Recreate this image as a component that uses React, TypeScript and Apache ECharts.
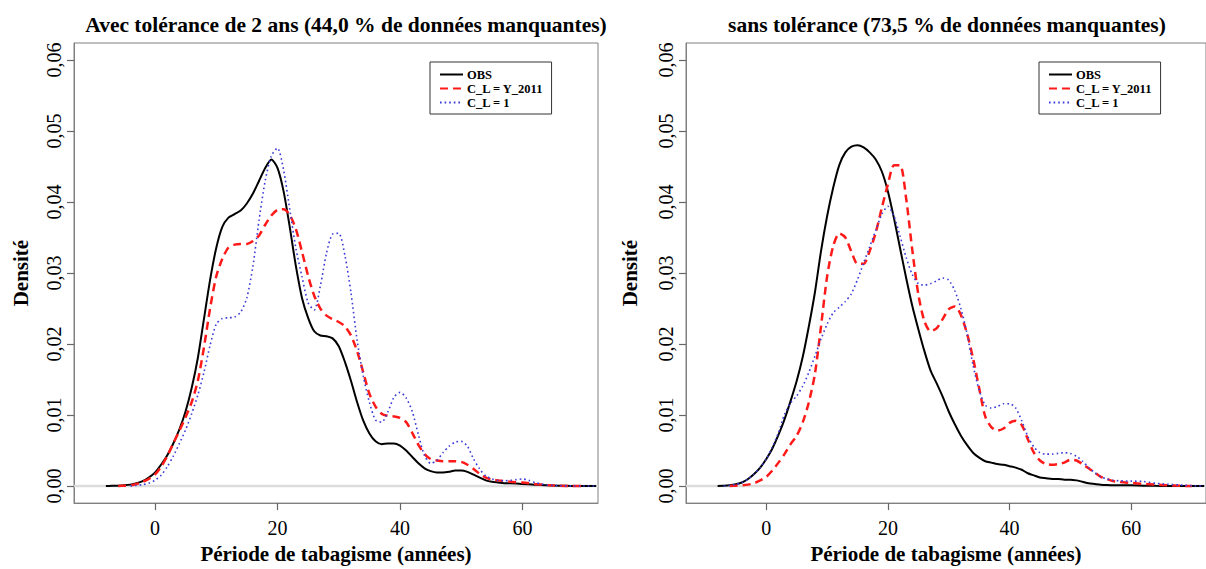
import React, { useEffect, useRef } from "react";
import * as echarts from "echarts";

const FONT = "'Liberation Serif', serif";

const seriesNames = ["OBS", "C_L = Y_2011", "C_L = 1"];
const titles = [
  "Avec tolérance de 2 ans (44,0 % de données manquantes)",
  "sans tolérance (73,5 % de données manquantes)",
];
const xTitle = "Période de tabagisme (années)";
const yTitle = "Densité";
const xTicks = [0, 20, 40, 60];
const yTicks = [0, 0.01, 0.02, 0.03, 0.04, 0.05, 0.06];
const xRange = [-13.2, 72.3];
const yRange = [-0.0024, 0.0624];

// Left panel: with 2-year tolerance
const leftObs = [
  [-8, 0], [-7, 0.00003], [-6, 0.00005], [-5, 0.0001], [-4, 0.0002], [-3, 0.0004], [-2, 0.0007], [-1, 0.0012],
  [0, 0.0019], [1, 0.003], [2, 0.0043], [3, 0.006], [4, 0.008], [5, 0.0105], [6, 0.0138], [7, 0.018],
  [8, 0.0235], [9, 0.029], [10, 0.0335], [11, 0.0365], [12, 0.0378], [13, 0.0383], [14, 0.0388], [15, 0.0398],
  [16, 0.0412], [17, 0.043], [18, 0.0448], [19, 0.046], [20, 0.0448], [21, 0.0415], [22, 0.0365], [23, 0.031],
  [24, 0.0265], [25, 0.0237], [26, 0.0218], [27, 0.0212], [28, 0.0211], [29, 0.0208], [30, 0.0197], [31, 0.0175],
  [32, 0.0148], [33, 0.0118], [34, 0.0092], [35, 0.0074], [36, 0.0063], [37, 0.0059], [38, 0.006], [39, 0.006],
  [40, 0.0057], [41, 0.005], [42, 0.0041], [43, 0.0032], [44, 0.0025], [45, 0.0021], [46, 0.0019], [47, 0.0019],
  [48, 0.002], [49, 0.0022], [50, 0.0022], [51, 0.002], [52, 0.0016], [53, 0.0012], [54, 0.0008], [55, 0.0006],
  [56, 0.0005], [57, 0.0004], [58, 0.0004], [60, 0.0003], [62, 0.0002], [64, 0.0001], [66, 0.00005], [68, 0.00002],
  [70, 0.00001], [72, 0],
];
const leftY2011 = [
  [-6, 0], [-5, 0.00005], [-4, 0.0001], [-3, 0.0003], [-2, 0.0006], [-1, 0.001], [0, 0.0016], [1, 0.0027],
  [2, 0.0042], [3, 0.006], [4, 0.0078], [5, 0.0097], [6, 0.0118], [7, 0.0148], [8, 0.0195], [9, 0.025],
  [10, 0.0295], [11, 0.032], [12, 0.0336], [13, 0.034], [14, 0.0341], [15, 0.0341], [16, 0.0345], [17, 0.0353],
  [18, 0.0368], [19, 0.0381], [20, 0.0389], [21, 0.039], [22, 0.0382], [23, 0.0362], [24, 0.033], [25, 0.0296],
  [26, 0.0268], [27, 0.025], [28, 0.024], [29, 0.0235], [30, 0.0231], [31, 0.0225], [32, 0.0212], [33, 0.019],
  [34, 0.016], [35, 0.013], [36, 0.0112], [37, 0.0102], [38, 0.0099], [39, 0.0098], [40, 0.0096], [41, 0.009],
  [42, 0.0075], [43, 0.0058], [44, 0.0045], [45, 0.0038], [46, 0.0036], [47, 0.0035], [48, 0.0035], [49, 0.0035],
  [50, 0.0034], [51, 0.003], [52, 0.0024], [53, 0.0017], [54, 0.0012], [55, 0.0009], [56, 0.0008], [58, 0.0006],
  [60, 0.0005], [62, 0.0003], [64, 0.00015], [66, 0.00005], [68, 0], [70, 0],
];
const leftCL1 = [
  [-4, 0], [-3, 0.0001], [-2, 0.0002], [-1, 0.0004], [0, 0.0008], [1, 0.0015], [2, 0.0027], [3, 0.0042],
  [4, 0.006], [5, 0.0079], [6, 0.0102], [7, 0.0128], [8, 0.016], [9, 0.0198], [10, 0.0228], [11, 0.0236],
  [12, 0.0237], [13, 0.0238], [14, 0.0245], [15, 0.0265], [16, 0.031], [17, 0.0375], [18, 0.043], [19, 0.0465],
  [20, 0.0476], [21, 0.0445], [22, 0.039], [23, 0.0335], [24, 0.0295], [25, 0.0258], [26, 0.0248], [27, 0.0282],
  [28, 0.0328], [29, 0.0355], [30, 0.0356], [31, 0.0325], [32, 0.0272], [33, 0.0205], [34, 0.0155], [35, 0.0118],
  [36, 0.0093], [37, 0.009], [38, 0.0104], [39, 0.0125], [40, 0.0132], [41, 0.0124], [42, 0.0105], [43, 0.0072],
  [44, 0.0043], [45, 0.0032], [46, 0.0036], [47, 0.0047], [48, 0.0056], [49, 0.0062], [50, 0.0063], [51, 0.0056],
  [52, 0.0038], [53, 0.0024], [54, 0.0014], [55, 0.001], [56, 0.0008], [57, 0.00075], [58, 0.0008], [59, 0.0009],
  [60, 0.001], [61, 0.0008], [62, 0.0005], [63, 0.0003], [64, 0.00015], [66, 0.00005], [68, 0.00002], [70, 0], [72, 0],
];

// Right panel: without tolerance
const rightObs = [
  [-8, 0], [-7, 0.00003], [-6, 0.0001], [-5, 0.00025], [-4, 0.0005], [-3, 0.001], [-2, 0.0017], [-1, 0.0026],
  [0, 0.0038], [1, 0.0053], [2, 0.0072], [3, 0.0094], [4, 0.012], [5, 0.0148], [6, 0.0182], [7, 0.0225],
  [8, 0.0273], [9, 0.0331], [10, 0.038], [11, 0.042], [12, 0.0452], [13, 0.047], [14, 0.0478], [15, 0.048],
  [16, 0.0477], [17, 0.047], [18, 0.046], [19, 0.0443], [20, 0.0415], [21, 0.0377], [22, 0.0335], [23, 0.0293],
  [24, 0.0254], [25, 0.0221], [26, 0.019], [27, 0.0163], [28, 0.0145], [29, 0.0126], [30, 0.0105], [31, 0.0087],
  [32, 0.0071], [33, 0.0058], [34, 0.0047], [35, 0.004], [36, 0.0035], [37, 0.0033], [38, 0.0031], [39, 0.003],
  [40, 0.0028], [41, 0.0026], [42, 0.0023], [43, 0.0018], [44, 0.0015], [45, 0.0012], [46, 0.0011], [47, 0.001],
  [48, 0.001], [49, 0.0009], [50, 0.0009], [51, 0.0008], [52, 0.0006], [53, 0.0004], [54, 0.0003], [55, 0.0002],
  [56, 0.00015], [58, 0.0001], [60, 0.0001], [62, 0.00005], [64, 0.00003], [66, 0.00002], [68, 0.00001], [70, 0], [72, 0],
];
const rightY2011 = [
  [-6, 0], [-5, 0.00005], [-4, 0.0001], [-3, 0.0002], [-2, 0.0004], [-1, 0.0008], [0, 0.0013], [1, 0.0022],
  [2, 0.0033], [3, 0.0045], [4, 0.0059], [5, 0.0071], [6, 0.009], [7, 0.0118], [8, 0.0158], [9, 0.0225],
  [10, 0.0295], [11, 0.0338], [12, 0.0356], [13, 0.035], [14, 0.033], [15, 0.0313], [16, 0.0313], [17, 0.0331],
  [18, 0.0357], [19, 0.0392], [20, 0.0425], [21, 0.0452], [22, 0.0452], [23, 0.0405], [24, 0.0333], [25, 0.027],
  [26, 0.0232], [27, 0.0218], [28, 0.0222], [29, 0.0235], [30, 0.0249], [31, 0.0253], [32, 0.0241], [33, 0.0215],
  [34, 0.018], [35, 0.0138], [36, 0.0098], [37, 0.0083], [38, 0.0078], [39, 0.0081], [40, 0.0089], [41, 0.0092],
  [42, 0.0086], [43, 0.0066], [44, 0.0047], [45, 0.0036], [46, 0.0031], [47, 0.003], [48, 0.0031], [49, 0.0033],
  [50, 0.0037], [51, 0.0036], [52, 0.0031], [53, 0.0025], [54, 0.0019], [55, 0.0013], [56, 0.001], [57, 0.0007],
  [58, 0.0006], [59, 0.0005], [60, 0.00045], [62, 0.0003], [64, 0.0002], [66, 0.0001], [68, 0.00003], [70, 0],
];
const rightCL1 = [
  [-7, 0], [-6, 0.0001], [-5, 0.00025], [-4, 0.0005], [-3, 0.001], [-2, 0.0017], [-1, 0.0026], [0, 0.0038],
  [1, 0.0055], [2, 0.0075], [3, 0.0101], [4, 0.0117], [5, 0.0127], [6, 0.0141], [7, 0.016], [8, 0.0183],
  [9, 0.0207], [10, 0.0228], [11, 0.0244], [12, 0.0252], [13, 0.026], [14, 0.0271], [15, 0.0291], [16, 0.0314],
  [17, 0.0337], [18, 0.036], [19, 0.0383], [20, 0.0394], [21, 0.038], [22, 0.0352], [23, 0.0322], [24, 0.0298],
  [25, 0.0285], [26, 0.0283], [27, 0.0285], [28, 0.0289], [29, 0.0293], [30, 0.029], [31, 0.0275], [32, 0.025],
  [33, 0.0215], [34, 0.017], [35, 0.0135], [36, 0.0114], [37, 0.011], [38, 0.0112], [39, 0.0116], [40, 0.0116],
  [41, 0.011], [42, 0.0092], [43, 0.007], [44, 0.0055], [45, 0.0047], [46, 0.0045], [47, 0.0045], [48, 0.0046],
  [49, 0.0047], [50, 0.0046], [51, 0.0042], [52, 0.0035], [53, 0.0026], [54, 0.0019], [55, 0.0013], [56, 0.001],
  [57, 0.0008], [58, 0.00075], [60, 0.0007], [62, 0.00065], [64, 0.0004], [66, 0.00025], [68, 0.00015], [70, 0.00005], [72, 0],
];

const panels = [
  { obs: leftObs, y2011: leftY2011, cl1: leftCL1 },
  { obs: rightObs, y2011: rightY2011, cl1: rightCL1 },
];

const grids = [
  { left: 74, top: 43, width: 524, height: 470 },
  { left: 686, top: 43, width: 521, height: 470 },
];
const legendPos = [
  { left: 430, top: 62 },
  { left: 1039, top: 62 },
];
const titleCenters = [341, 942];
const nameGapsY = [43, 46];

export default function App() {
  const ref = useRef<HTMLDivElement>(null);

  useEffect(() => {
    if (!ref.current) return;
    const chart = echarts.init(ref.current, null, { renderer: "svg" });

    const fmtY = (v: number) => v.toFixed(2).replace(".", ",");
    const lineGray = { color: "#808080", width: 1 };
    const tickGray = { color: "#666", width: 1.2 };

    const xAxis = grids.map((_, i) => ({
      gridIndex: i,
      type: "value",
      position: "bottom",
      min: xRange[0],
      max: xRange[1],
      splitLine: { show: false },
      axisLine: { show: true, onZero: false, lineStyle: lineGray },
      axisTick: { show: true, inside: false, length: 7, customValues: xTicks, lineStyle: tickGray },
      axisLabel: { customValues: xTicks, margin: 15, fontSize: 20, fontFamily: FONT, color: "#000" },
      name: xTitle,
      nameLocation: "middle",
      nameGap: 35,
      nameTextStyle: { fontSize: 21, fontWeight: "bold", fontFamily: FONT, color: "#000" },
    }));

    const yAxis = grids.map((_, i) => ({
      gridIndex: i,
      type: "value",
      position: "left",
      min: yRange[0],
      max: yRange[1],
      splitLine: { show: false },
      axisLine: { show: true, onZero: false, lineStyle: lineGray },
      axisTick: { show: true, inside: false, length: 7, customValues: yTicks, lineStyle: tickGray },
      axisLabel: {
        customValues: yTicks,
        rotate: 90,
        margin: 10,
        fontSize: 20,
        fontFamily: FONT,
        color: "#000",
        formatter: fmtY,
      },
      name: yTitle,
      nameLocation: "middle",
      nameRotate: 90,
      nameGap: nameGapsY[i],
      nameTextStyle: { fontSize: 21, fontWeight: "bold", fontFamily: FONT, color: "#000" },
    }));

    const series: any[] = [];
    panels.forEach((p, i) => {
      series.push({
        name: "zero",
        type: "line",
        xAxisIndex: i,
        yAxisIndex: i,
        data: [[xRange[0], 0], [xRange[1], 0]],
        symbol: "none",
        silent: true,
        lineStyle: { color: "#dcdcdc", width: 2.5 },
        z: 1,
      });
      series.push({
        name: seriesNames[0],
        type: "line",
        xAxisIndex: i,
        yAxisIndex: i,
        data: p.obs,
        symbol: "none",
        smooth: 0.25,
        color: "#000",
        lineStyle: { color: "#000", width: 2, type: "solid" },
        z: 2,
      });
      series.push({
        name: seriesNames[1],
        type: "line",
        xAxisIndex: i,
        yAxisIndex: i,
        data: p.y2011,
        symbol: "none",
        smooth: 0.25,
        color: "#ff1a1a",
        lineStyle: { color: "#ff1a1a", width: 2.5, type: [8, 5] },
        z: 3,
      });
      series.push({
        name: seriesNames[2],
        type: "line",
        xAxisIndex: i,
        yAxisIndex: i,
        data: p.cl1,
        symbol: "none",
        smooth: 0.25,
        color: "#3b3bd9",
        lineStyle: { color: "#3b3bd9", width: 1.6, type: [1.6, 3] },
        z: 4,
      });
    });

    chart.setOption({
      animation: false,
      backgroundColor: "#fff",
      textStyle: { fontFamily: FONT },
      title: titles.map((t, i) => ({
        text: t,
        left: titleCenters[i],
        top: 9,
        textAlign: "center",
        textStyle: { fontSize: 21.5, fontWeight: "bold", fontFamily: FONT, color: "#000" },
      })),
      legend: legendPos.map((lp) => ({
        data: seriesNames,
        orient: "vertical",
        left: lp.left,
        top: lp.top,
        itemWidth: 23,
        itemHeight: 12,
        itemGap: 1,
        padding: [6, 8, 5, 9],
        backgroundColor: "#fff",
        borderColor: "#333",
        borderWidth: 1,
        borderRadius: 0,
        selectedMode: false,
        itemStyle: { color: "transparent", borderWidth: 0, opacity: 0 },
        textStyle: { fontSize: 12.5, fontWeight: "bold", fontFamily: FONT, color: "#000", padding: [0, 0, 0, -1] },
      })),
      grid: grids.map((g) => ({
        ...g,
        show: true,
        borderColor: "#808080",
        borderWidth: 1,
        backgroundColor: "transparent",
        containLabel: false,
      })),
      xAxis,
      yAxis,
      series,
    });

    return () => chart.dispose();
  }, []);

  return (
    <div
      ref={ref}
      style={{ position: "absolute", left: 0, top: 0, width: 1206, height: 569, background: "#fff" }}
    />
  );
}
